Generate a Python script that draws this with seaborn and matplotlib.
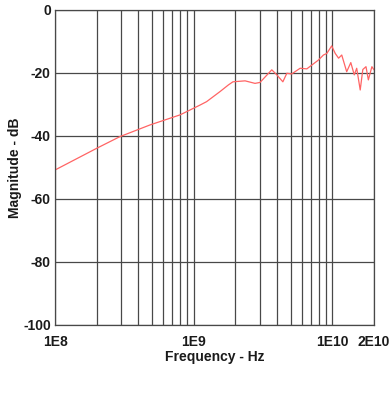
import numpy as np
import pandas as pd
import matplotlib
matplotlib.use('Agg')
import matplotlib.pyplot as plt
import seaborn as sns
from matplotlib.ticker import FixedLocator, FixedFormatter, NullFormatter

# valores
freq_hz = [1.0e8, 2.0e8, 2.94e8, 4.84e8, 7.98e8, 1.11e9, 1.24e9, 1.55e9, 1.78e9,
           1.92e9, 2.35e9, 2.77e9, 3.01e9, 3.66e9, 3.98e9, 4.40e9, 4.70e9, 5.10e9,
           5.86e9, 6.55e9, 7.94e9, 8.63e9, 9.13e9, 9.9e9, 1.05e10, 1.11e10, 1.17e10,
           1.27e10, 1.36e10, 1.44e10, 1.50e10, 1.59e10, 1.66e10, 1.75e10, 1.82e10,
           1.93e10, 2.0e10]
magnitude_db = [-50.8, -43.9, -40.2, -36.5, -33.3, -30.2, -29.1, -25.9, -23.8,
                -22.8, -22.5, -23.3, -23.0, -19.0, -20.6, -22.8, -20.1, -20.3,
                -18.5, -18.7, -15.9, -14.3, -13.8, -11.4, -13.8, -15.3, -14.3,
                -19.6, -16.7, -20.6, -18.5, -25.4, -18.9, -18.0, -22.2,
                -18.0, -19.0]

x_ticks = [1e8, 1e9, 1e10, 2e10]
x_labels = ['1E8', '1E9', '1E10', '2E10']
y_ticks = [0, -20, -40, -60, -80, -100]

df = pd.DataFrame({'freq': freq_hz, 'mag': magnitude_db})

sns.set_style('white')
plt.rcParams['font.family'] = ['Liberation Sans', 'DejaVu Sans']

fig = plt.figure(figsize=(3.91, 3.99), dpi=100)
ax = fig.add_axes([0.1407, 0.1855, 0.8159, 0.7895])

sns.lineplot(data=df, x='freq', y='mag', ax=ax, color='#ff6464', linewidth=0.9)

ax.set_xscale('log')
ax.set_xlim(1e8, 2e10)
ax.set_ylim(-100, 0)

minor = [m * 10**e for e in (8, 9) for m in range(2, 10)]
ax.xaxis.set_major_locator(FixedLocator(x_ticks))
ax.xaxis.set_major_formatter(FixedFormatter(x_labels))
ax.xaxis.set_minor_locator(FixedLocator(minor))
ax.xaxis.set_minor_formatter(NullFormatter())
ax.set_yticks(y_ticks)
ax.set_yticklabels([str(v) for v in y_ticks])

ax.grid(True, which='both', axis='x', color='#484848', linewidth=0.9)
ax.grid(True, which='major', axis='y', color='#484848', linewidth=0.9)
ax.tick_params(which='both', length=0, colors='#1a1a1a')
ax.tick_params(axis='x', pad=7)
ax.tick_params(axis='y', pad=3)
for lbl in ax.get_xticklabels() + ax.get_yticklabels():
    lbl.set_fontweight('bold')
    lbl.set_fontsize(10)

for s in ax.spines.values():
    s.set_color('#484848')
    s.set_linewidth(0.9)

ax.set_xlabel('Frequency - Hz', fontsize=10, fontweight='bold', labelpad=1, color='#1a1a1a')
ax.set_ylabel('Magnitude - dB', fontsize=10, fontweight='bold', labelpad=1, color='#1a1a1a')

fig.savefig('out.png', dpi=100)
